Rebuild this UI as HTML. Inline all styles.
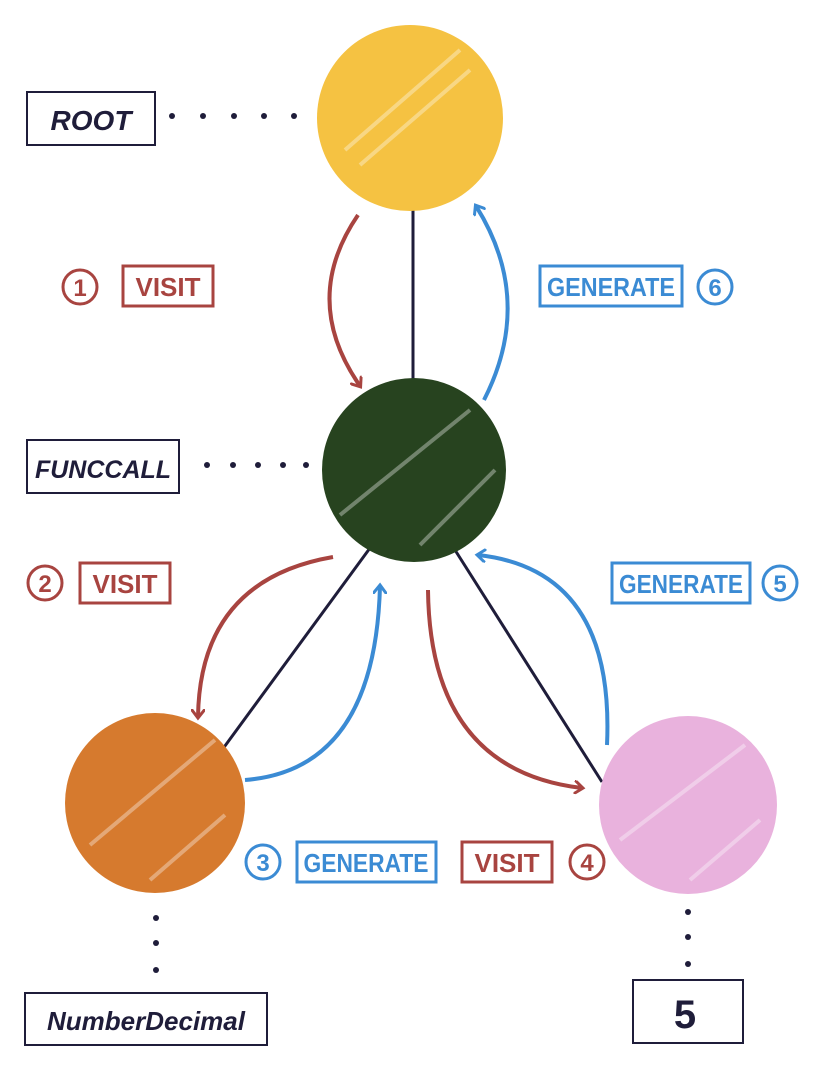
<!DOCTYPE html>
<html><head><meta charset="utf-8"><style>
html,body{margin:0;padding:0;background:#fff;}
svg{display:block;}
text{font-family:"Liberation Sans",sans-serif;}
</style></head><body>
<svg width="822" height="1074" viewBox="0 0 822 1074" xmlns="http://www.w3.org/2000/svg">
<defs>
<marker id="ar" markerWidth="14" markerHeight="14" refX="8" refY="7" orient="auto" markerUnits="userSpaceOnUse"><path d="M0,0 L9,7 L0,14" fill="none" stroke="#A84440" stroke-width="3"/></marker>
<marker id="ab" markerWidth="14" markerHeight="14" refX="8" refY="7" orient="auto" markerUnits="userSpaceOnUse"><path d="M0,0 L9,7 L0,14" fill="none" stroke="#3B8BD4" stroke-width="3"/></marker>
</defs>
<g stroke="#1f1d3a" stroke-width="3">
<line x1="413" y1="205" x2="413" y2="380"/>
<line x1="370" y1="548" x2="222" y2="750"/>
<line x1="455" y1="550" x2="602" y2="782"/>
</g>
<circle cx="410" cy="118" r="93" fill="#F5C242"/>
<circle cx="414" cy="470" r="92" fill="#27431F"/>
<circle cx="155" cy="803" r="90" fill="#D67A2E"/>
<circle cx="688" cy="805" r="89" fill="#E9B2DD"/>
<g stroke="#fff" stroke-opacity="0.35" stroke-width="4">
<line x1="345" y1="150" x2="460" y2="50"/><line x1="360" y1="165" x2="470" y2="70"/>
<line x1="340" y1="515" x2="470" y2="410"/><line x1="420" y1="545" x2="495" y2="470"/>
<line x1="90" y1="845" x2="215" y2="740"/><line x1="150" y1="880" x2="225" y2="815"/>
<line x1="620" y1="840" x2="745" y2="745"/><line x1="690" y1="880" x2="760" y2="820"/>
</g>
<g fill="#1f1d3a">
<circle cx="172" cy="116" r="3"/><circle cx="203" cy="116" r="3"/><circle cx="234" cy="116" r="3"/><circle cx="264" cy="116" r="3"/><circle cx="294" cy="116" r="3"/>
<circle cx="207" cy="465" r="3"/><circle cx="233" cy="465" r="3"/><circle cx="258" cy="465" r="3"/><circle cx="283" cy="465" r="3"/><circle cx="306" cy="465" r="3"/>
<circle cx="156" cy="918" r="3"/><circle cx="156" cy="943" r="3"/><circle cx="156" cy="970" r="3"/>
<circle cx="688" cy="912" r="3"/><circle cx="688" cy="937" r="3"/><circle cx="688" cy="964" r="3"/>
</g>
<g fill="none" stroke="#1f1d3a" stroke-width="2">
<rect x="27" y="92" width="128" height="53"/>
<rect x="27" y="440" width="152" height="53"/>
<rect x="25" y="993" width="242" height="52"/>
<rect x="633" y="980" width="110" height="63"/>
</g>
<g fill="#1f1d3a" font-style="italic" font-weight="bold">
<text x="91" y="130" font-size="28" text-anchor="middle">ROOT</text>
<text x="103" y="478" font-size="25" text-anchor="middle">FUNCCALL</text>
<text x="146" y="1030" font-size="26" text-anchor="middle">NumberDecimal</text>
<text x="685" y="1028" font-size="40" text-anchor="middle" font-style="normal">5</text>
</g>
<g fill="none" stroke-width="4">
<path d="M358,215 Q300,300 360,386" stroke="#A84440" marker-end="url(#ar)"/>
<path d="M484,400 Q535,300 476,206" stroke="#3B8BD4" marker-end="url(#ab)"/>
<path d="M333,557 Q200,580 198,717" stroke="#A84440" marker-end="url(#ar)"/>
<path d="M245,780 Q375,770 380,586" stroke="#3B8BD4" marker-end="url(#ab)"/>
<path d="M428,590 Q430,770 582,788" stroke="#A84440" marker-end="url(#ar)"/>
<path d="M607,745 Q615,570 478,555" stroke="#3B8BD4" marker-end="url(#ab)"/>
</g>
<g font-size="26" text-anchor="middle">
<g stroke="#A84440" fill="none" stroke-width="3">
<circle cx="80" cy="287" r="17"/><rect x="123" y="266" width="90" height="40"/>
<circle cx="45" cy="583" r="17"/><rect x="80" y="563" width="90" height="40"/>
<rect x="462" y="842" width="90" height="40"/><circle cx="587" cy="862" r="17"/>
</g>
<g stroke="#3B8BD4" fill="none" stroke-width="3">
<rect x="540" y="266" width="142" height="40"/><circle cx="715" cy="287" r="17"/>
<rect x="612" y="563" width="138" height="40"/><circle cx="780" cy="583" r="17"/>
<circle cx="263" cy="862" r="17"/><rect x="297" y="842" width="139" height="40"/>
</g>
<g fill="#A84440" font-weight="bold">
<text x="80" y="296" font-size="24">1</text><text x="168" y="296">VISIT</text>
<text x="45" y="592" font-size="24">2</text><text x="125" y="593">VISIT</text>
<text x="507" y="872">VISIT</text><text x="587" y="871" font-size="24">4</text>
</g>
<g fill="#3B8BD4" font-weight="bold">
<text x="611" y="296" textLength="128" lengthAdjust="spacingAndGlyphs">GENERATE</text><text x="715" y="296" font-size="24">6</text>
<text x="681" y="593" textLength="124" lengthAdjust="spacingAndGlyphs">GENERATE</text><text x="780" y="592" font-size="24">5</text>
<text x="263" y="871" font-size="24">3</text><text x="366" y="872" textLength="125" lengthAdjust="spacingAndGlyphs">GENERATE</text>
</g>
</g>
</svg>
</body></html>
